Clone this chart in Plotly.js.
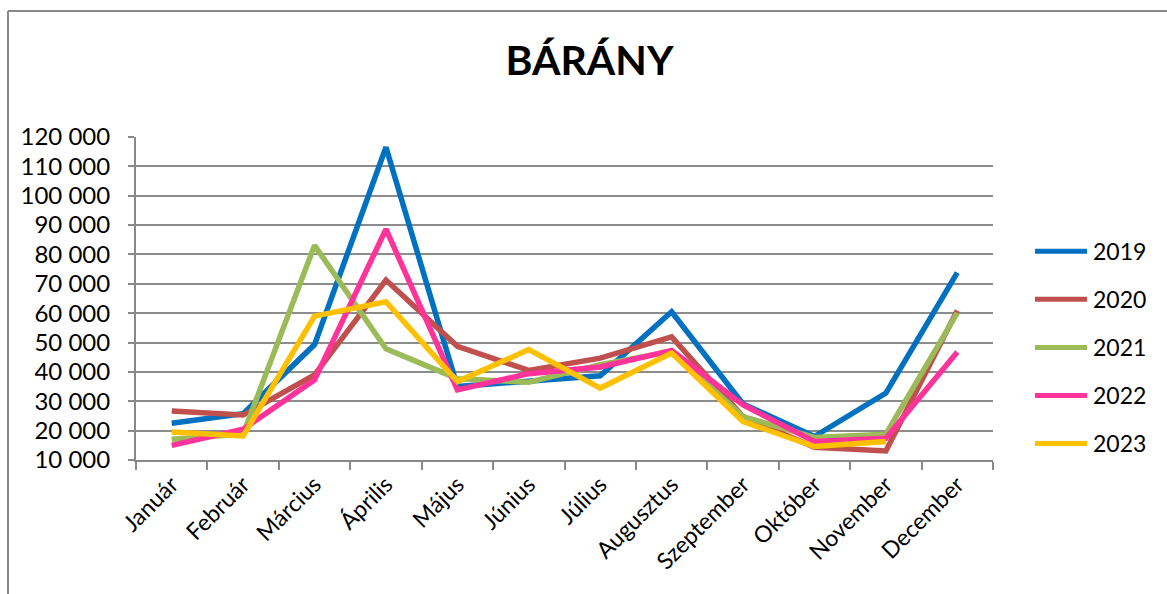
<!DOCTYPE html>
<html>
<head>
<meta charset="utf-8">
<script src="https://cdn.plot.ly/plotly-3.0.1.min.js"></script>
<style>
  html, body { margin: 0; padding: 0; background: #ffffff; }
  #chart { width: 1167px; height: 594px; }
</style>
</head>
<body>
<div id="chart"></div>
<script>
// ---- data ----
var months = ['Január','Február','Március','Április','Május','Június','Július','Augusztus','Szeptember','Október','November','December'];
var seriesNames = ['2019','2020','2021','2022','2023'];
var y2019 = [22500, 25800, 49300, 116500, 35000, 37000, 38700, 60500, 29100, 18000, 32800, 73800];
var y2020 = [26700, 25300, 39000, 71300, 48700, 40500, 44700, 51900, 24800, 14300, 13100, 60900];
var y2021 = [17100, 18800, 83100, 47900, 37700, 36500, 42500, 47000, 24800, 17700, 18800, 60100];
var y2022 = [15000, 20500, 37300, 88600, 33900, 39400, 41700, 47300, 28800, 16300, 17400, 46800];
var y2023 = [19500, 18200, 59000, 63900, 36700, 47600, 34500, 46400, 23100, 14600, 16300, null];
var yTickVals = [10000, 20000, 30000, 40000, 50000, 60000, 70000, 80000, 90000, 100000, 110000, 120000];

// ---- styling ----
var colors = ['#0070C0', '#C0504D', '#9BBB59', '#FF3399', '#FFC000'];
var allY = [y2019, y2020, y2021, y2022, y2023];
var FONT = 'Lato, "Open Sans", sans-serif';

var W = 1167, H = 594;
var plotL = 136, plotR = 993, plotT = 137.3, plotB = 460;
function px2x(px) { return (px - plotL) / (plotR - plotL); }
function px2y(py) { return (plotB - py) / (plotB - plotT); }

var traces = allY.map(function (ys, i) {
  return {
    type: 'scatter',
    mode: 'lines',
    name: seriesNames[i],
    x: months,
    y: ys,
    line: { color: colors[i], width: 5.5 },
    connectgaps: false,
    hoverinfo: 'x+y+name'
  };
});

var shapes = [];
var annotations = [];
// chart border (top and left edges visible)
shapes.push({ type: 'line', xref: 'paper', yref: 'paper',
  x0: px2x(8), x1: px2x(1200), y0: px2y(11.5), y1: px2y(11.5),
  line: { color: '#888888', width: 2 } });
shapes.push({ type: 'line', xref: 'paper', yref: 'paper',
  x0: px2x(8), x1: px2x(8), y0: px2y(11.5), y1: px2y(620),
  line: { color: '#888888', width: 2 } });

// custom legend
var legTop = 251.5, legStep = 48;
seriesNames.forEach(function (nm, i) {
  var yy = px2y(legTop + i * legStep);
  shapes.push({ type: 'line', xref: 'paper', yref: 'paper',
    x0: px2x(1035), x1: px2x(1087), y0: yy, y1: yy,
    line: { color: colors[i], width: 5 } });
  annotations.push({ xref: 'paper', yref: 'paper', x: px2x(1091), y: yy,
    xanchor: 'left', yanchor: 'middle', text: nm, showarrow: false,
    font: { family: FONT, size: 23, color: '#000000' } });
});

var layout = {
  width: W, height: H,
  paper_bgcolor: '#ffffff', plot_bgcolor: '#ffffff',
  margin: { l: plotL, r: W - plotR, t: plotT, b: H - plotB, pad: 0 },
  separators: ', ',
  showlegend: false,
  font: { family: FONT, size: 23, color: '#000000' },
  title: {
    text: '<b>BÁRÁNY</b>',
    font: { family: FONT, size: 41, color: '#000000' },
    xref: 'container', yref: 'container',
    x: 589.5 / W, xanchor: 'center',
    y: 1 - 61 / H, yanchor: 'middle'
  },
  xaxis: {
    type: 'category',
    range: [-0.5, 11.5],
    tickson: 'boundaries',
    ticks: 'outside', ticklen: 8, tickwidth: 2, tickcolor: '#888888',
    showline: true, linecolor: '#888888', linewidth: 2,
    showgrid: false, zeroline: false,
    tickangle: -45,
    tickfont: { family: FONT, size: 23, color: '#000000' },
    fixedrange: true
  },
  yaxis: {
    range: [10000, 120000],
    tickvals: yTickVals,
    tickformat: ',d',
    ticks: 'outside', ticklen: 6, tickwidth: 2, tickcolor: '#888888',
    showline: true, linecolor: '#888888', linewidth: 2,
    showgrid: true, gridcolor: '#8c8c8c', gridwidth: 2,
    zeroline: false,
    ticklabelstandoff: 13,
    tickfont: { family: FONT, size: 24, color: '#000000' },
    fixedrange: true
  },
  shapes: shapes,
  annotations: annotations
};

Plotly.newPlot('chart', traces, layout, { displayModeBar: false, staticPlot: true });
</script>
</body>
</html>
